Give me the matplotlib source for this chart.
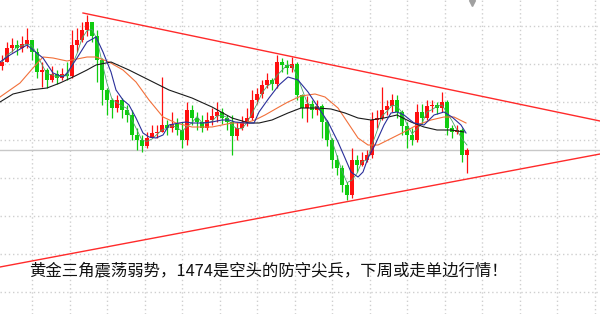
import numpy as np
import pandas as pd
import matplotlib
matplotlib.use('Agg')
import matplotlib.pyplot as plt

plt.rcParams['font.family'] = ['Noto Sans CJK SC', 'DejaVu Sans']

# candle data (price), one bar per index
first_open = 1506.8
close = [1507.6, 1510.4, 1511.0, 1510.4, 1511.2, 1512.0, 1509.6, 1505.6, 1506.0, 1504.0,
         1505.2, 1504.4, 1505.2, 1504.8, 1511.0, 1512.0, 1514.0, 1515.6, 1512.8, 1508.0,
         1502.0, 1500.0, 1498.4, 1500.0, 1498.0, 1497.0, 1493.0, 1492.0, 1490.8, 1492.4,
         1493.4, 1493.6, 1495.0, 1494.4, 1495.2, 1494.0, 1492.0, 1498.0, 1496.4, 1495.6,
         1494.4, 1496.0, 1496.8, 1497.6, 1496.4, 1495.6, 1492.8, 1494.4, 1495.6, 1496.4,
         1500.0, 1501.2, 1503.0, 1504.0, 1503.2, 1507.6, 1507.0, 1506.4, 1507.2, 1501.0,
         1498.4, 1499.2, 1498.0, 1498.8, 1495.6, 1492.0, 1488.0, 1486.4, 1483.0, 1481.0,
         1488.0, 1487.0, 1488.0, 1489.0, 1496.0, 1496.4, 1498.0, 1498.8, 1500.0, 1497.6,
         1494.8, 1493.0, 1492.0, 1497.6, 1496.4, 1498.8, 1499.0, 1498.4, 1499.6, 1494.4,
         1493.6, 1494.0, 1489.0, 1490.0]
high = [1509.0, 1511.6, 1512.4, 1512.0, 1512.8, 1514.4, 1512.0, 1510.4, 1507.6, 1506.4,
        1506.8, 1506.0, 1506.4, 1507.6, 1514.0, 1514.4, 1515.6, 1517.0, 1515.6, 1514.0,
        1508.4, 1502.4, 1500.4, 1501.0, 1500.4, 1499.0, 1498.0, 1494.4, 1493.0, 1493.6,
        1495.0, 1495.0, 1504.6, 1496.0, 1497.6, 1496.4, 1495.6, 1499.6, 1499.0, 1497.6,
        1497.0, 1497.6, 1498.4, 1499.6, 1498.4, 1497.0, 1497.0, 1495.6, 1496.8, 1498.4,
        1502.0, 1502.4, 1504.0, 1505.4, 1504.4, 1509.0, 1508.4, 1508.0, 1508.6, 1507.6,
        1501.2, 1500.8, 1500.0, 1500.0, 1499.2, 1496.0, 1492.4, 1489.0, 1487.0, 1483.6,
        1490.4, 1489.0, 1489.6, 1490.0, 1497.6, 1498.0, 1502.6, 1500.0, 1501.2, 1501.0,
        1498.0, 1495.6, 1494.4, 1499.2, 1499.2, 1500.0, 1500.0, 1499.6, 1501.6, 1500.0,
        1495.0, 1495.0, 1494.4, 1490.4]
low = [1506.0, 1507.6, 1509.6, 1509.0, 1509.6, 1510.4, 1508.0, 1504.4, 1502.6, 1502.4,
       1503.6, 1503.2, 1504.0, 1504.0, 1504.4, 1509.6, 1511.6, 1512.8, 1511.6, 1503.6,
       1499.0, 1497.0, 1496.4, 1497.6, 1496.4, 1495.6, 1492.0, 1490.0, 1489.6, 1490.4,
       1492.4, 1492.4, 1493.6, 1493.0, 1493.6, 1493.0, 1490.4, 1491.0, 1495.0, 1494.0,
       1493.6, 1494.0, 1495.0, 1495.6, 1495.2, 1494.0, 1489.0, 1492.0, 1494.0, 1494.8,
       1496.0, 1499.2, 1500.4, 1502.4, 1502.0, 1502.4, 1505.6, 1505.2, 1505.6, 1500.0,
       1496.4, 1495.6, 1496.4, 1497.0, 1492.4, 1490.8, 1486.4, 1485.0, 1481.6, 1480.0,
       1480.4, 1485.6, 1486.8, 1487.6, 1488.4, 1494.4, 1496.0, 1497.0, 1497.6, 1496.4,
       1493.0, 1490.4, 1491.0, 1491.6, 1495.2, 1496.0, 1497.6, 1497.2, 1497.6, 1493.0,
       1492.4, 1493.2, 1487.6, 1485.4]

# moving averages (bar position, price)
ma_blue_x = [-0.4, 1.6, 5.0, 6.2, 8.2, 10.2, 12.2, 13.0, 15.0, 17.0,
             18.8, 20.2, 21.8, 22.8, 24.2, 25.4, 26.8, 28.2, 29.4, 30.8,
             32.2, 33.4, 35.4, 36.8, 38.0, 40.0, 42.0, 44.0, 45.4, 46.6,
             48.6, 50.4, 51.4, 53.4, 55.4, 57.2, 59.2, 61.2, 63.2, 65.2,
             67.2, 68.6, 69.8, 71.2, 72.2, 73.2, 74.6, 76.4, 77.8, 79.0,
             80.4, 82.4, 84.4, 86.4, 88.4, 90.0, 91.8, 92.8]
ma_blue_y = [1507.6, 1509.0, 1511.0, 1510.0, 1508.4, 1505.4, 1504.6, 1505.4, 1508.4, 1511.6,
             1512.6, 1509.6, 1505.6, 1502.0, 1500.0, 1499.0, 1496.4, 1493.4, 1492.6, 1492.4,
             1493.0, 1495.0, 1495.4, 1495.6, 1495.4, 1495.4, 1495.6, 1496.0, 1496.0, 1495.6,
             1495.4, 1495.4, 1497.6, 1500.4, 1503.0, 1504.6, 1504.0, 1501.6, 1498.6, 1495.6,
             1491.6, 1488.4, 1485.6, 1484.6, 1485.6, 1488.4, 1491.0, 1495.0, 1497.4, 1497.6,
             1497.0, 1495.4, 1495.0, 1497.0, 1497.6, 1496.6, 1495.0, 1493.4]
ma_orange_x = [-0.4, 3.6, 6.2, 8.2, 10.2, 13.0, 15.0, 17.0, 18.8, 21.4,
               24.2, 26.8, 29.4, 32.2, 34.8, 38.0, 42.0, 46.0, 48.6, 50.6,
               52.6, 55.4, 57.2, 59.8, 62.6, 64.6, 67.2, 69.2, 71.2, 73.2,
               75.2, 76.4, 78.4, 80.4, 83.0, 85.8, 88.4, 90.4, 92.8]
ma_orange_y = [1500.6, 1503.4, 1506.4, 1508.6, 1508.4, 1507.8, 1508.2, 1508.6, 1508.6, 1507.6,
               1506.0, 1503.6, 1500.0, 1496.6, 1495.4, 1494.6, 1494.6, 1495.4, 1495.4, 1496.0,
               1497.0, 1498.6, 1499.6, 1500.8, 1501.2, 1500.6, 1498.4, 1495.4, 1492.4, 1491.0,
               1491.0, 1491.6, 1492.6, 1493.6, 1495.0, 1496.0, 1496.6, 1496.6, 1495.4]
ma_black_x = [-0.4, 2.2, 5.6, 9.0, 11.6, 14.2, 17.0, 18.8, 21.8, 25.4,
              29.4, 33.4, 38.0, 42.0, 46.0, 49.4, 51.4, 54.0, 57.2, 59.8,
              63.2, 65.8, 68.6, 71.2, 73.8, 76.4, 79.0, 81.8, 84.4, 87.0,
              89.8, 92.4]
ma_black_y = [1499.6, 1501.2, 1502.0, 1502.4, 1503.4, 1504.6, 1506.0, 1507.0, 1507.6, 1506.0,
              1504.0, 1502.0, 1500.4, 1498.6, 1496.4, 1495.4, 1495.4, 1496.0, 1497.4, 1498.4,
              1498.4, 1498.2, 1497.4, 1496.4, 1496.0, 1496.4, 1497.0, 1495.6, 1494.6, 1494.0,
              1494.0, 1493.6]

# triangle lines (bar, price)
upper_x = [16.2, 119.6]
upper_y = [1517.4, 1495.8]
lower_x = [-0.4, 119.6]
lower_y = [1466.6, 1489.2]
ref_price = 1490.0

title = "黄金三角震荡弱势，1474是空头的防守尖兵，下周或走单边行情！"

n = len(close)
x = np.arange(n)
open_ = np.array([first_open] + close[:-1])
close = np.array(close)
up = close >= open_
cols = np.where(up, '#ff1010', '#10cc10')

fig = plt.figure(figsize=(6, 3.14), dpi=100)
ax = fig.add_axes([0, 0, 1, 1])
ax.set_xlim(-0.4, 119.6)
ax.set_ylim(1457.2, 1520)
ax.axis('off')

grid_kw = dict(color='#cfcfcf', lw=1, ls=(0, (1, 2)), zorder=0)
for gy in np.arange(1461.6, 1516, 7.6):
    ax.axhline(gy, **grid_kw)
for gx in np.arange(6, 120, 7.5):
    ax.axvline(gx, **grid_kw)
ax.axhline(ref_price, color='#c8c8c8', lw=1, zorder=0)

ax.vlines(x, low, high, colors=cols, lw=0.9, zorder=2)
body = np.abs(close - open_)
body = np.where(body < 0.2, 0.2, body)
ax.bar(x, body, bottom=np.minimum(open_, close), width=0.7, color=cols, lw=0, zorder=3)

ma_green = pd.Series(close).rolling(3, min_periods=1).mean()
ax.plot(x, ma_green, color='#4aa36a', lw=0.6, zorder=4)
ax.plot(ma_blue_x, ma_blue_y, color='#2a2f9a', lw=0.8, zorder=5)
ax.plot(ma_orange_x, ma_orange_y, color='#f2703a', lw=0.8, zorder=4)
ax.plot(ma_black_x, ma_black_y, color='#1a1a1a', lw=0.8, zorder=4)

ax.plot(upper_x, upper_y, color='#ff2a2a', lw=1.0, zorder=6)
ax.plot(lower_x, lower_y, color='#ff2a2a', lw=1.0, zorder=6)
ax.plot([94], [1519.4], marker='v', color='#a0a0a0', ms=4, zorder=6)

fig.text(0.447, 0.137, title, fontsize=11.8, ha='center', va='center', color='#111111')

fig.savefig('out.png', dpi=100)
